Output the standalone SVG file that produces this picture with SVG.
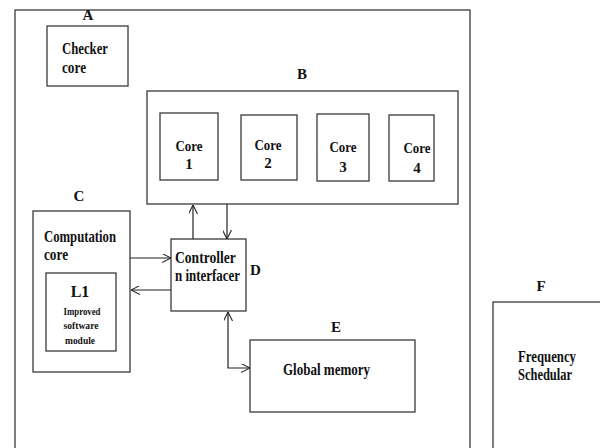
<svg xmlns="http://www.w3.org/2000/svg" width="600" height="448" viewBox="0 0 600 448">
<defs>
<style>
.box{fill:#fff;stroke:#3a3a3a;stroke-width:1.3}
.t{font-family:"Liberation Serif","Times New Roman",serif;font-weight:bold;font-size:16px;fill:#111}
.s{font-size:15px}
.xs{font-size:11px}
.c{text-anchor:middle}
.ln{fill:none;stroke:#222;stroke-width:1.2}
</style>
<marker id="ah" viewBox="0 0 10 10" refX="10" refY="5" markerWidth="9" markerHeight="9" markerUnits="userSpaceOnUse" orient="auto-start-reverse">
<path d="M0,0 L10,5 L0,10" fill="none" stroke="#222" stroke-width="1.2"/>
</marker>
</defs>
<rect width="600" height="448" fill="#fff"/>
<g id="outer"><rect class="box" x="15" y="10" width="455" height="450"/></g>
<g id="A">
<text class="t s c" x="88" y="20">A</text>
<rect class="box" x="47" y="26" width="81" height="60"/>
<text class="t" x="62" y="54" textLength="46" lengthAdjust="spacingAndGlyphs">Checker</text>
<text class="t" x="62" y="73" textLength="24" lengthAdjust="spacingAndGlyphs">core</text>
</g>
<g id="B">
<text class="t s c" x="302" y="79">B</text>
<rect class="box" x="147" y="91" width="311" height="113"/>
</g>
<g id="core1">
<rect class="box" x="160" y="113" width="58" height="67"/>
<text class="t s c" x="189" y="151" textLength="27" lengthAdjust="spacingAndGlyphs">Core</text>
<text class="t s c" x="189" y="169">1</text>
</g>
<g id="core2">
<rect class="box" x="241" y="115" width="56" height="65"/>
<text class="t s c" x="268" y="150" textLength="27" lengthAdjust="spacingAndGlyphs">Core</text>
<text class="t s c" x="268" y="168">2</text>
</g>
<g id="core3">
<rect class="box" x="317" y="114" width="52" height="67"/>
<text class="t s c" x="343" y="152" textLength="27" lengthAdjust="spacingAndGlyphs">Core</text>
<text class="t s c" x="343" y="172">3</text>
</g>
<g id="core4">
<rect class="box" x="389" y="115" width="45" height="66"/>
<text class="t s c" x="417" y="153" textLength="27" lengthAdjust="spacingAndGlyphs">Core</text>
<text class="t s c" x="417" y="173">4</text>
</g>
<g id="C">
<text class="t s c" x="79" y="201">C</text>
<rect class="box" x="33" y="211" width="97" height="161"/>
<text class="t" x="44" y="242" textLength="72" lengthAdjust="spacingAndGlyphs">Computation</text>
<text class="t" x="44" y="260" textLength="24" lengthAdjust="spacingAndGlyphs">core</text>
</g>
<g id="L1">
<rect class="box" x="46" y="273" width="70" height="78"/>
<text class="t c" x="80" y="297">L1</text>
<text class="t xs c" x="82" y="315" textLength="37" lengthAdjust="spacingAndGlyphs">Improved</text>
<text class="t xs c" x="81" y="329" textLength="35" lengthAdjust="spacingAndGlyphs">software</text>
<text class="t xs c" x="80" y="344" textLength="30" lengthAdjust="spacingAndGlyphs">module</text>
</g>
<g id="D">
<rect class="box" x="171" y="239" width="75" height="72"/>
<text class="t" transform="translate(175,263) scale(0.85,1)">Controller</text>
<text class="t" transform="translate(175,281) scale(0.81,1)">n interfacer</text>
<text class="t s" x="250" y="275">D</text>
</g>
<g id="E">
<text class="t s c" x="336" y="332">E</text>
<rect class="box" x="250" y="340" width="165" height="72"/>
<text class="t" x="283" y="375" textLength="87" lengthAdjust="spacingAndGlyphs">Global memory</text>
</g>
<g id="F">
<text class="t s c" x="541" y="291">F</text>
<rect class="box" x="493" y="302" width="120" height="160"/>
<text class="t" x="518" y="362" textLength="58" lengthAdjust="spacingAndGlyphs">Frequency</text>
<text class="t" x="518" y="380" textLength="54" lengthAdjust="spacingAndGlyphs">Schedular</text>
</g>
<g id="connectors">
<line class="ln" x1="193" y1="239" x2="193" y2="205" marker-end="url(#ah)"/>
<line class="ln" x1="227" y1="204" x2="227" y2="239" marker-end="url(#ah)"/>
<line class="ln" x1="130" y1="258" x2="171" y2="258" marker-end="url(#ah)"/>
<line class="ln" x1="171" y1="290" x2="131" y2="290" marker-end="url(#ah)"/>
<path class="ln" d="M228,312 V368 H250" marker-start="url(#ah)" marker-end="url(#ah)"/>
</g>
</svg>
